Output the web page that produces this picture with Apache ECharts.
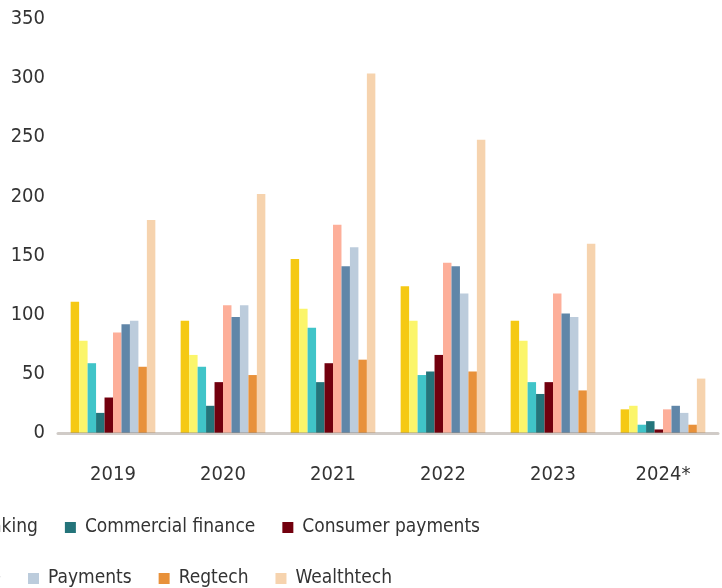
<!DOCTYPE html>
<html>
<head>
<meta charset="utf-8">
<script src="https://cdn.jsdelivr.net/npm/echarts@6/dist/echarts.min.js"></script>
<style>
  html, body { margin: 0; padding: 0; background: #fff; }
  #chart { width: 722px; height: 588px; }
</style>
</head>
<body>
<div id="chart"></div>
<script>
// categories
const years = ['2019', '2020', '2021', '2022', '2023', '2024*']

// series names (first ones are cut off at the left edge of the picture)
const seriesNames = [
  'Alternative lending', 'Blockchain', 'Challenger banking', 'Commercial finance', 'Consumer payments',
  'Cryptocurrency', 'Insurance', 'Payments', 'Regtech', 'Wealthtech'
]
const seriesColors = [
  '#F5C914', '#FBF56A', '#40C4C8', '#24747A', '#72000E',
  '#FDAF9A', '#6086A8', '#BCCCDC', '#E8913A', '#F6D3AE'
]

// values per series
const altLending   = [111, 95, 147, 124, 95, 20]
const blockchain   = [78, 66, 105, 95, 78, 23]
const challenger   = [59, 56, 89, 49, 43, 7]
const commercial   = [17, 23, 43, 52, 33, 10]
const consumerPay  = [30, 43, 59, 66, 43, 3]
const crypto       = [85, 108, 176, 144, 118, 20]
const insurance    = [92, 98, 141, 141, 101, 23]
const payments     = [95, 108, 157, 118, 98, 17]
const regtech      = [56, 49, 62, 52, 36, 7]
const wealthtech   = [180, 202, 304, 248, 160, 46]

const seriesData = [altLending, blockchain, challenger, commercial, consumerPay,
  crypto, insurance, payments, regtech, wealthtech]

const FONT = '"DejaVu Sans Condensed", "Liberation Sans Narrow", sans-serif'

const chart = echarts.init(document.getElementById('chart'))

const legendBase = {
  orient: 'horizontal',
  icon: 'rect',
  itemWidth: 11,
  itemHeight: 11,
  itemGap: 27,
  width: 1500,
  selectedMode: false,
  textStyle: {
    fontFamily: FONT,
    fontSize: 19,
    color: '#333',
    padding: [0, 0, 0, 4]
  }
}

const option = {
  animation: false,
  backgroundColor: '#fff',
  grid: {
    left: 58,
    right: 4,
    top: 19,
    bottom: 155
  },
  legend: [
    Object.assign({}, legendBase, { data: seriesNames.slice(0, 5), right: 237, top: 513 }),
    Object.assign({}, legendBase, { data: seriesNames.slice(5), right: 325, top: 564 })
  ],
  xAxis: {
    type: 'category',
    data: years,
    z: 5,
    axisLine: { lineStyle: { color: 'rgba(150,140,130,0.45)', width: 3 } },
    axisTick: { show: false },
    axisLabel: {
      fontFamily: FONT,
      fontSize: 20,
      color: '#333',
      margin: 32
    }
  },
  yAxis: {
    type: 'value',
    min: 0,
    max: 350,
    interval: 50,
    axisLine: { show: false },
    axisTick: { show: false },
    splitLine: { show: false },
    axisLabel: {
      fontFamily: FONT,
      fontSize: 20,
      color: '#333',
      margin: 13
    }
  },
  series: seriesNames.map((name, i) => ({
    name: name,
    type: 'bar',
    data: seriesData[i],
    barGap: 0,
    barCategoryGap: '23%',
    itemStyle: { color: seriesColors[i] }
  }))
}

chart.setOption(option)
</script>
</body>
</html>
